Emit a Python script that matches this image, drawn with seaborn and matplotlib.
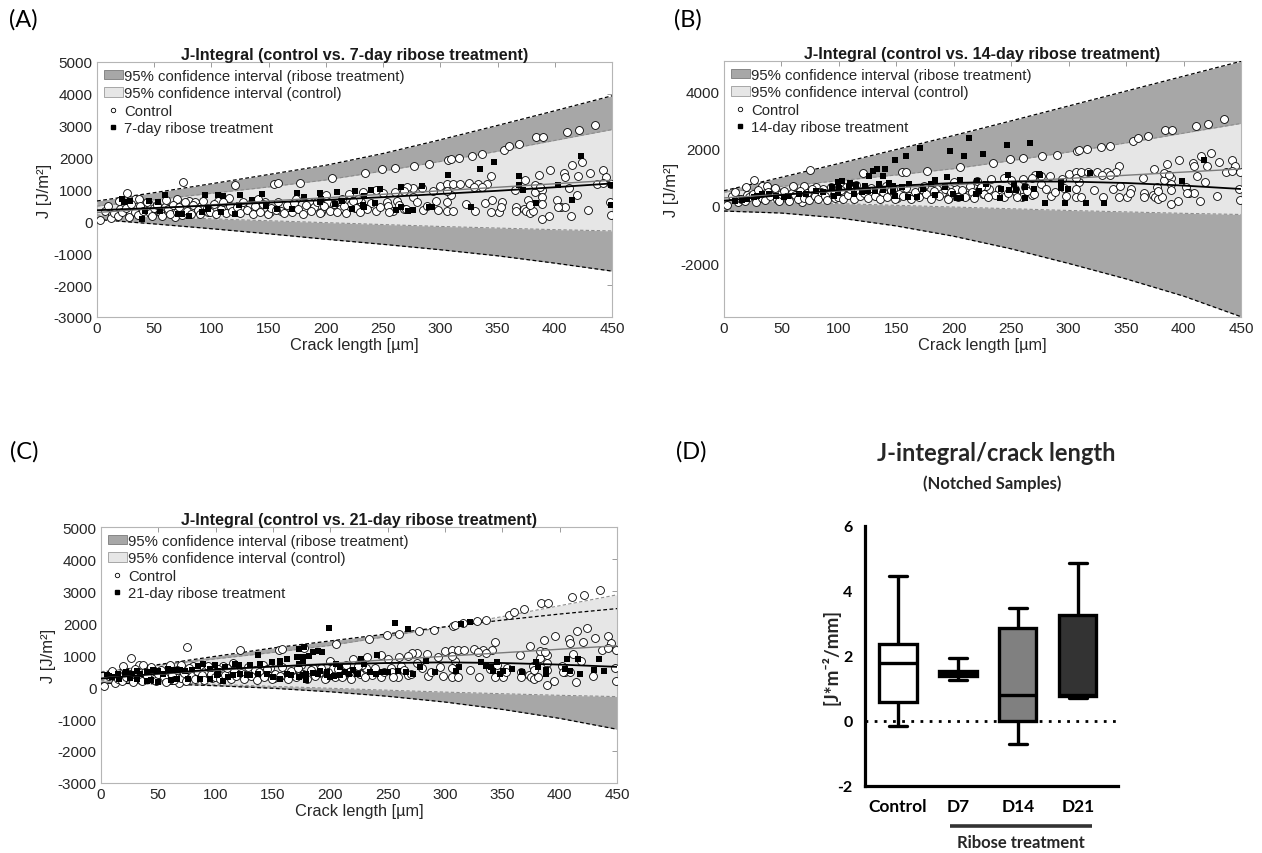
import numpy as np
import pandas as pd
import matplotlib
matplotlib.use("Agg")
import matplotlib.pyplot as plt
import matplotlib.transforms as mtransforms
from matplotlib.patches import Patch
from matplotlib.lines import Line2D
import seaborn as sns

sns.set_theme(style="white")
plt.rcParams['font.family'] = ['Liberation Sans', 'DejaVu Sans']
plt.rcParams['axes.unicode_minus'] = False

# ---------------- data ----------------
x_grid = [0, 50, 100, 150, 200, 250, 300, 350, 400, 450]

ctrl_fit = [280, 400, 520, 640, 740, 850, 960, 1070, 1180, 1290]
ctrl_ci_upper = [480, 680, 880, 1080, 1300, 1580, 1880, 2200, 2540, 2880]
ctrl_ci_lower = [200, 140, 80, 20, -40, -100, -160, -210, -260, -300]

r7_fit = [350, 420, 500, 590, 670, 760, 860, 960, 1070, 1190]
r7_upper = [640, 900, 1180, 1470, 1760, 2130, 2560, 3010, 3470, 3940]
r7_lower = [60, -80, -230, -390, -560, -720, -890, -1080, -1310, -1560]

r14_fit = [180, 380, 560, 700, 800, 850, 850, 800, 710, 590]
r14_upper = [530, 1000, 1480, 1970, 2460, 2970, 3490, 4010, 4530, 5050]
r14_lower = [-180, -250, -420, -700, -1060, -1500, -2010, -2550, -3150, -3870]

r21_fit = [260, 420, 550, 640, 710, 750, 770, 750, 700, 630]
r21_upper = [450, 700, 960, 1220, 1440, 1660, 1880, 2090, 2280, 2450]
r21_lower = [120, 100, 40, -40, -150, -290, -470, -700, -980, -1320]

control_pts = [
    (3, 45), (19, 650), (26, 900), (33, 700), (37, 700), (29, 230), (13, 230), (7, 335), (10, 490),
    (20, 390), (42, 390), (45, 545), (54, 285), (59, 440), (70, 700), (75, 1245), (80, 650), (65, 335),
    (68, 125), (86, 600), (91, 490), (97, 285), (106, 650), (115, 735), (121, 1150), (116, 490),
    (126, 390), (134, 545), (141, 700), (147, 600), (155, 1170), (158, 1190), (151, 285), (161, 335),
    (167, 440), (174, 700), (177, 1215), (185, 600), (190, 440), (196, 285), (202, 600), (205, 1350),
    (212, 390), (214, 700), (220, 860), (222, 545),
    (12, 120), (15, 250), (18, 180), (22, 300), (25, 420), (28, 150), (30, 550), (33, 280), (36, 200),
    (38, 480), (40, 330), (44, 620), (46, 250), (48, 180), (50, 420), (52, 520), (55, 300), (57, 160),
    (60, 680), (62, 380), (64, 230), (66, 520), (70, 290), (72, 450), (74, 200), (77, 600), (79, 330),
    (82, 240), (84, 500), (88, 360), (90, 220), (93, 650), (96, 420), (99, 300), (102, 560), (104, 240),
    (108, 380), (110, 600), (113, 250), (118, 330), (122, 450), (125, 260), (128, 620), (131, 350),
    (136, 230), (138, 480), (142, 300), (145, 560), (149, 240), (152, 420), (156, 350), (158, 620),
    (163, 250), (166, 500), (170, 300), (172, 580), (176, 400), (180, 240), (183, 520), (187, 330),
    (192, 600), (195, 250), (198, 470), (200, 820), (204, 320), (207, 560), (210, 300), (216, 480),
    (218, 260),
    (234, 1505), (249, 1630), (260, 1665), (277, 1745), (290, 1790), (307, 1915), (309, 1945),
    (316, 1985), (328, 2050), (336, 2100), (356, 2250), (360, 2355), (369, 2425), (384, 2635),
    (390, 2635), (411, 2800), (421, 2875), (435, 3020),
    (344, 1410), (396, 1600), (386, 1465), (408, 1505), (409, 1390), (415, 1755), (424, 1850),
    (420, 1410), (431, 1525), (442, 1600), (445, 1390), (374, 1285),
    (300, 1110), (306, 1170), (311, 1170), (317, 1170), (325, 1195), (333, 1170), (341, 1170),
    (329, 1090), (294, 940), (284, 1045), (276, 1055), (271, 1075), (268, 965), (260, 930), (250, 890),
    (244, 985), (232, 930), (309, 825), (306, 965), (336, 1070), (365, 985), (383, 910), (389, 985),
    (437, 1170), (442, 1215), (449, 1170), (383, 1140), (387, 1090), (412, 1035),
    (231, 595), (239, 585), (253, 595), (262, 650), (276, 755), (306, 595), (322, 545), (339, 575),
    (345, 680), (354, 595), (377, 670), (389, 755), (402, 670), (405, 460), (409, 460), (419, 825),
    (414, 170), (429, 355), (449, 200), (448, 595), (244, 315), (254, 470), (259, 325), (268, 380),
    (285, 355), (298, 355), (306, 315), (311, 315), (330, 315), (344, 305), (351, 305), (353, 460),
    (366, 460), (366, 315), (373, 390), (375, 325), (378, 255), (381, 315), (389, 75), (395, 180),
    (403, 460), (378, 525), (389, 545),
    (225, 430), (228, 700), (236, 380), (247, 460), (255, 300), (264, 520), (270, 400), (280, 600),
    (288, 480), (296, 640), (224, 650), (226, 420), (230, 300),
]

ribose7_pts = [
    (225, 940), (233, 785), (239, 985), (247, 1025), (266, 1090), (284, 1120), (307, 1465),
    (347, 1870), (335, 1640), (369, 1410), (369, 1140), (372, 985), (403, 1150), (423, 2040),
    (415, 660), (384, 575), (449, 1140), (449, 525), (223, 390), (233, 440), (243, 575), (261, 355),
    (266, 440), (272, 335), (276, 365), (290, 440), (293, 445), (327, 440), (232, 525),
    (22, 700), (24, 600), (29, 650), (39, 75), (42, 335), (45, 650), (53, 600), (59, 830), (55, 335),
    (71, 230), (74, 230), (80, 180), (92, 285), (94, 830), (97, 390), (106, 830), (110, 805),
    (108, 285), (124, 525), (125, 835), (121, 230), (135, 670), (144, 860), (148, 495), (157, 390),
    (170, 390), (175, 880), (181, 755), (195, 880), (196, 700), (195, 600), (208, 545), (210, 910),
    (214, 650),
]

ribose14_pts = [
    (213, 2355), (171, 2020), (197, 1905), (209, 1750), (158, 1750), (149, 1600), (225, 1810),
    (130, 1210), (133, 1290), (140, 1290), (138, 1055), (126, 1055), (194, 1020), (205, 905),
    (99, 825), (103, 860), (110, 790), (94, 675), (100, 625), (109, 650), (115, 745), (123, 710),
    (135, 765), (144, 790), (147, 710), (155, 650), (161, 765), (173, 590), (180, 765), (184, 905),
    (192, 650), (199, 420), (203, 280), (206, 280), (184, 395), (168, 325), (160, 325), (149, 360),
    (147, 535), (138, 555), (131, 535), (125, 535), (120, 475), (113, 420), (99, 440), (96, 360),
    (86, 475), (80, 535), (71, 420), (65, 420), (56, 360), (52, 300), (45, 360), (39, 420), (33, 420),
    (29, 360), (26, 300), (20, 245), (16, 210), (10, 185), (220, 880), (222, 535), (219, 420),
    (246, 2135), (266, 2195), (247, 1070), (274, 1115), (275, 1080), (319, 1150), (293, 845),
    (399, 860), (418, 1600), (293, 615), (299, 590), (270, 590), (262, 650), (254, 570), (248, 570),
    (241, 590), (252, 765), (228, 765), (240, 280), (262, 280), (279, 105), (297, 95), (315, 105),
    (331, 95),
]

ribose21_pts = [
    (199, 1845), (173, 1185), (177, 1235), (185, 1080), (189, 1130), (193, 1080), (137, 1010),
    (5, 365), (7, 335), (15, 420), (21, 400), (22, 470), (27, 420), (31, 500), (34, 420), (40, 470),
    (45, 540), (50, 500), (54, 420), (58, 570), (61, 540), (64, 540), (69, 520), (73, 500), (79, 520),
    (85, 645), (89, 725), (95, 570), (99, 675), (101, 365), (108, 620), (117, 725), (120, 675),
    (130, 675), (139, 725), (149, 775), (156, 825), (162, 875), (171, 930), (176, 950), (181, 980),
    (156, 725), (173, 725), (176, 805), (137, 420), (127, 365), (121, 420), (115, 365), (102, 420),
    (95, 235), (86, 265), (76, 245), (66, 265), (61, 215), (50, 165), (44, 215), (40, 185), (31, 265),
    (25, 295), (16, 265), (10, 315), (162, 420), (166, 365), (173, 315), (179, 420), (185, 440),
    (189, 420), (197, 365), (203, 335), (208, 365), (213, 470), (216, 420), (223, 400), (220, 540),
    (208, 620), (205, 725), (197, 470), (191, 500), (200, 315), (176, 365), (179, 215), (156, 265),
    (150, 315), (145, 420), (130, 365), (106, 185), (111, 315), (102, 500),
    (256, 2000), (268, 1825), (314, 1970), (322, 2030), (331, 775), (336, 645), (340, 620),
    (342, 500), (345, 775), (351, 500), (358, 570), (348, 420), (367, 470), (379, 775), (381, 620),
    (388, 420), (388, 540), (405, 570), (409, 500), (418, 420), (406, 875), (416, 875), (430, 540),
    (434, 875), (439, 500), (283, 825), (291, 470), (278, 620), (272, 420), (266, 470), (259, 500),
    (250, 470), (245, 470), (240, 400), (235, 470), (227, 875), (229, 725), (224, 400), (241, 1010),
    (312, 620), (310, 500),
]

x_ticks = [0, 50, 100, 150, 200, 250, 300, 350, 400, 450]
y_ticks_ac = [-3000, -2000, -1000, 0, 1000, 2000, 3000, 4000, 5000]
y_ticks_b = [-2000, 0, 2000, 4000]

# panel D box statistics: [min, Q1, median, Q3, max]
box_groups = ["Control", "D7", "D14", "D21"]
box_stats = {
    "Control": [-0.15, 0.58, 1.78, 2.37, 4.46],
    "D7": [1.25, 1.38, 1.45, 1.55, 1.95],
    "D14": [-0.71, 0.0, 0.81, 2.85, 3.47],
    "D21": [0.70, 0.78, 0.80, 3.25, 4.87],
}
box_fill = {"Control": "#ffffff", "D7": "#1a1a1a", "D14": "#808080", "D21": "#333333"}
d_yticks = [-2, 0, 2, 4, 6]

# ---------------- styling ----------------
DARK = '#a7a7a7'
LIGHT = '#e6e6e6'
W, H = 1262, 854
fig = plt.figure(figsize=(W / 100, H / 100), dpi=100)


def axes_px(left, top, right, bottom):
    return fig.add_axes([left / W, 1 - bottom / H, (right - left) / W, (bottom - top) / H])


def j_panel(ax, pts, r_fit, r_up, r_lo, title, rlabel, ylim, yticks):
    ax.fill_between(x_grid, r_lo, r_up, color=DARK, lw=0, zorder=1)
    ax.fill_between(x_grid, ctrl_ci_lower, ctrl_ci_upper, color=LIGHT, lw=0, zorder=2)
    for yy in (ctrl_ci_upper, ctrl_ci_lower):
        sns.lineplot(x=x_grid, y=yy, ax=ax, color='#8c8c8c', lw=0.8,
                     linestyle=(0, (3, 2)), zorder=3)
    for yy in (r_up, r_lo):
        sns.lineplot(x=x_grid, y=yy, ax=ax, color='black', lw=0.9,
                     linestyle=(0, (3, 2)), zorder=3)
    cdf = pd.DataFrame(control_pts, columns=["crack", "J"])
    rdf = pd.DataFrame(pts, columns=["crack", "J"])
    sns.scatterplot(data=cdf, x="crack", y="J", ax=ax, marker='o', s=32, color='white',
                    edgecolor='black', linewidth=0.6, zorder=4)
    sns.scatterplot(data=rdf, x="crack", y="J", ax=ax, marker='s', s=13, color='black',
                    edgecolor='black', linewidth=0, zorder=5)
    sns.lineplot(x=x_grid, y=ctrl_fit, ax=ax, color='#7a7a7a', lw=1.0, zorder=6)
    sns.lineplot(x=x_grid, y=r_fit, ax=ax, color='black', lw=1.3, zorder=7)

    ax.set_xlim(0, 450)
    ax.set_ylim(*ylim)
    ax.set_xticks(x_ticks)
    ax.set_yticks(yticks)
    ax.set_xticklabels([str(v) for v in x_ticks])
    ax.set_yticklabels([str(v) for v in yticks])
    ax.tick_params(direction='in', length=3.5, width=0.6, color='#8c8c8c',
                   labelcolor='#262626', labelsize=11, top=True, right=True, pad=3)
    for s in ax.spines.values():
        s.set_visible(True)
        s.set_color('#b5b5b5')
        s.set_linewidth(0.8)
    ax.set_xlabel("Crack length [µm]", fontsize=11.8, color='#262626', labelpad=1)
    ax.set_ylabel("J [J/m²]", fontsize=12, color='#262626', labelpad=1)
    ax.set_title(title, fontsize=11.6, fontweight='bold', color='#1a1a1a', pad=2)
    handles = [Patch(facecolor=DARK, edgecolor='#7a7a7a', lw=0.6),
               Patch(facecolor=LIGHT, edgecolor='#9a9a9a', lw=0.6),
               Line2D([], [], marker='o', ls='none', mfc='white', mec='black', ms=3.2, mew=0.6),
               Line2D([], [], marker='s', ls='none', mfc='black', mec='black', ms=2.6)]
    labels = ["95% confidence interval (ribose treatment)", "95% confidence interval (control)",
              "Control", rlabel]
    ax.legend(handles, labels, loc='upper left', frameon=False, fontsize=10.7,
              handlelength=1.3, handleheight=0.6, handletextpad=0.1, labelspacing=0.24,
              borderaxespad=0.2, borderpad=0.25)


axA = axes_px(97, 63, 612, 318)
j_panel(axA, ribose7_pts, r7_fit, r7_upper, r7_lower,
        "J-Integral (control vs. 7-day ribose treatment)", "7-day ribose treatment",
        (-3000, 5000), y_ticks_ac)

axB = axes_px(724, 62, 1241, 318)
j_panel(axB, ribose14_pts, r14_fit, r14_upper, r14_lower,
        "J-Integral (control vs. 14-day ribose treatment)", "14-day ribose treatment",
        (-3880, 5060), y_ticks_b)

axC = axes_px(101, 528, 617, 784)
j_panel(axC, ribose21_pts, r21_fit, r21_upper, r21_lower,
        "J-Integral (control vs. 21-day ribose treatment)", "21-day ribose treatment",
        (-3000, 5000), y_ticks_ac)

# ---------------- panel D ----------------
bold_font = ['Lato', 'DejaVu Sans']
axD = axes_px(865, 527, 1118, 787)
axD.axhline(0, color='black', lw=2.0, linestyle=(0, (1, 2.3)), zorder=0)
bdf = pd.DataFrame({
    "group": [g for g in box_groups for _ in range(5)],
    "value": [v for g in box_groups for v in box_stats[g]],
})
sns.boxplot(data=bdf, x="group", y="value", hue="group", order=box_groups, hue_order=box_groups,
            palette=box_fill, whis=(0, 100), width=0.62, linewidth=2.4, linecolor='black',
            fliersize=0, legend=False, ax=axD, zorder=2)
axD.set_xlim(-0.55, 3.67)
axD.set_ylim(-2, 6)
axD.set_yticks(d_yticks)
axD.set_yticklabels([str(v) for v in d_yticks], fontfamily=bold_font, fontweight='bold', fontsize=11.5)
axD.set_xticks(range(len(box_groups)))
axD.set_xticklabels(box_groups, fontfamily=bold_font, fontweight='bold', fontsize=12.5)
for s in ("top", "right"):
    axD.spines[s].set_visible(False)
for s in ("left", "bottom"):
    axD.spines[s].set_color('black')
    axD.spines[s].set_linewidth(2.3)
axD.tick_params(direction='out', length=6, width=2.3, color='black', labelcolor='black', pad=3)
axD.set_xlabel("")
axD.set_ylabel("[J*m⁻²/mm]", fontfamily=bold_font, fontweight='bold', fontsize=13.5)
axD.yaxis.set_label_coords(-0.095, 0.5)
trans = mtransforms.blended_transform_factory(axD.transData, axD.transAxes)
axD.plot([0.86, 3.24], [-0.155, -0.155], transform=trans, color='#333333', lw=2.6,
         clip_on=False, solid_capstyle='butt')
axD.text(2.05, -0.215, "Ribose treatment", transform=trans, ha='center', va='center',
         fontfamily=bold_font, fontweight='bold', fontsize=12)

fig.text(996 / W, 1 - 454 / H, "J-integral/crack length", ha='center', va='center',
         fontfamily=bold_font, fontweight='bold', fontsize=17)
fig.text(992 / W, 1 - 484 / H, "(Notched Samples)", ha='center', va='center',
         fontfamily=bold_font, fontweight='bold', fontsize=12)

# panel letters
for lab, xx, yy in (("(A)", 23, 20), ("(B)", 688, 20), ("(C)", 24, 452), ("(D)", 691, 452)):
    fig.text(xx / W, 1 - yy / H, lab, ha='center', va='center', fontfamily=['Lato', 'DejaVu Sans'],
             fontsize=17, color='black')

fig.savefig("out.png", dpi=100)
